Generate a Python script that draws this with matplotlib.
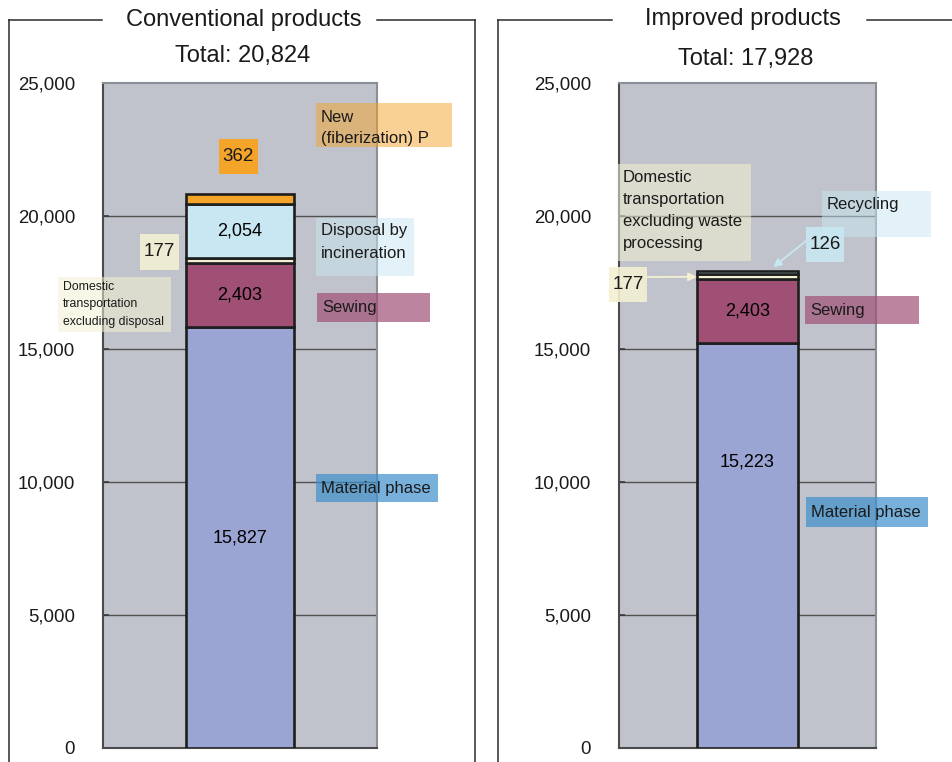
import matplotlib
matplotlib.use('Agg')

import matplotlib.pyplot as plt
from matplotlib.patches import Rectangle

plt.rcParams['font.family'] = ['Liberation Sans', 'DejaVu Sans']

# CO2 emissions per stage, stacked bottom to top
CONV_STAGES = ['Material phase', 'Sewing', 'Domestic transportation',
               'Disposal by incineration', 'New fiberization']
CONV_VALUES = [15827, 2403, 177, 2054, 362]
CONV_TOTAL = 20824

IMPR_STAGES = ['Material phase', 'Sewing', 'Domestic transportation', 'Recycling']
IMPR_VALUES = [15223, 2403, 177, 126]
IMPR_TOTAL = 17928

YTICKS = [0, 5000, 10000, 15000, 20000, 25000]

COLORS = {
    'Material phase': '#9aa5d3',
    'Sewing': '#a05075',
    'Domestic transportation': '#f3f0d2',
    'Disposal by incineration': '#c8e7f2',
    'New fiberization': '#f5a42a',
    'Recycling': '#c8e7f2',
}

W, H = 953, 762
fig = plt.figure(figsize=(W / 100, H / 100), dpi=100)


def rect(x0, y0, x1, y1):
    return [x0 / W, 1 - y1 / H, (x1 - x0) / W, (y1 - y0) / H]


def setup_axis(ax):
    ax.set_facecolor('#c0c3cb')
    ax.set_xlim(-1, 1)
    ax.set_ylim(0, 25000)
    ax.set_yticks(YTICKS)
    ax.set_yticklabels(['{:,}'.format(t) for t in YTICKS])
    ax.set_xticks([])
    ax.tick_params(axis='y', direction='in', length=4, width=1.2,
                   color='#3a3a3a', labelsize=13.4, pad=20, labelcolor='#1a1a1a')
    for t in YTICKS[1:-1]:
        ax.axhline(t, color='#505050', lw=1.0, zorder=1)
    ax.spines['left'].set_color('#4a4a4a')
    ax.spines['bottom'].set_color('#4a4a4a')
    ax.spines['right'].set_color('#8a8f96')
    ax.spines['top'].set_color('#8a8f96')
    for s in ax.spines.values():
        s.set_linewidth(1.5)


def stack(ax, stages, values):
    bottom = 0
    mids = []
    for name, v in zip(stages, values):
        ax.bar(0, v, width=0.79, bottom=bottom, color=COLORS[name],
               edgecolor='#1e1e1e', linewidth=1.9, zorder=3)
        mids.append(bottom + v / 2)
        bottom += v
    return mids


ax_l = fig.add_axes(rect(103, 83, 377, 748))
ax_r = fig.add_axes(rect(619, 83, 876, 748))
setup_axis(ax_l)
setup_axis(ax_r)

mid_l = stack(ax_l, CONV_STAGES, CONV_VALUES)
mid_r = stack(ax_r, IMPR_STAGES, IMPR_VALUES)

# values printed inside the bars
ax_l.text(0, mid_l[0], '{:,}'.format(CONV_VALUES[0]), ha='center', va='center', fontsize=13, zorder=4)
ax_l.text(0, mid_l[1], '{:,}'.format(CONV_VALUES[1]), ha='center', va='center', fontsize=13, zorder=4)
ax_l.text(0, mid_l[3], '{:,}'.format(CONV_VALUES[3]), ha='center', va='center', fontsize=13, zorder=4)
ax_r.text(0, 10750, '{:,}'.format(IMPR_VALUES[0]), ha='center', va='center', fontsize=13, zorder=4)
ax_r.text(0, mid_r[1], '{:,}'.format(IMPR_VALUES[1]), ha='center', va='center', fontsize=13, zorder=4)

# overlay in pixel units for frames, titles and callout boxes
ov = fig.add_axes([0, 0, 1, 1], zorder=5)
ov.set_xlim(0, W)
ov.set_ylim(H, 0)
ov.axis('off')
ov.patch.set_visible(False)

FRAME = dict(color='#2b2b2b', lw=1.1)
ov.plot([9, 102], [20, 20], **FRAME)
ov.plot([377, 475], [20, 20], **FRAME)
ov.plot([9, 9], [20, H + 5], **FRAME)
ov.plot([475, 475], [20, H + 5], **FRAME)
ov.plot([498, 612], [20, 20], **FRAME)
ov.plot([867, W + 5], [20, 20], **FRAME)
ov.plot([498, 498], [20, H + 5], **FRAME)

ov.text(243.5, 20, 'Conventional products', ha='center', va='center', fontsize=17, color='#1a1a1a')
ov.text(242.5, 56, 'Total: {:,}'.format(CONV_TOTAL), ha='center', va='center', fontsize=17, color='#1a1a1a')
ov.text(742.5, 19, 'Improved products', ha='center', va='center', fontsize=17, color='#1a1a1a')
ov.text(745.5, 59, 'Total: {:,}'.format(IMPR_TOTAL), ha='center', va='center', fontsize=17, color='#1a1a1a')


def tag(x0, y0, x1, y1, text, color, alpha, fs=12, center=False, ls=1.35, dy=0):
    ov.add_patch(Rectangle((x0, y0), x1 - x0, y1 - y0, facecolor=color,
                           alpha=alpha, edgecolor='none'))
    if center:
        ov.text((x0 + x1) / 2, (y0 + y1) / 2, text, ha='center', va='center',
                fontsize=fs, color='#1a1a1a')
    else:
        ov.text(x0 + 5, (y0 + y1) / 2 + dy, text, ha='left', va='center',
                fontsize=fs, color='#1a1a1a', linespacing=ls)


# conventional products callouts
tag(316, 103, 452, 147, 'New\n(fiberization) P', COLORS['New fiberization'], 0.5, ls=1.48, dy=3)
tag(219, 139, 258, 174, '{:,}'.format(CONV_VALUES[4]), COLORS['New fiberization'], 1.0, fs=13.5, center=True)
tag(316, 218, 414, 276, 'Disposal by\nincineration', COLORS['Disposal by incineration'], 0.5, ls=1.64, dy=-5)
tag(140, 234, 179, 270, '{:,}'.format(CONV_VALUES[2]), COLORS['Domestic transportation'], 0.9, fs=13.5, center=True)
tag(58, 277, 171, 332, 'Domestic\ntransportation\nexcluding disposal',
    COLORS['Domestic transportation'], 0.55, fs=8.8, ls=1.64)
tag(317, 293, 430, 322, 'Sewing', COLORS['Sewing'], 0.7)
tag(316, 474, 438, 502, 'Material phase', '#3d8fcc', 0.7)

# improved products callouts
tag(618, 164, 751, 261, 'Domestic\ntransportation\nexcluding waste\nprocessing',
    COLORS['Domestic transportation'], 0.55, ls=1.57, dy=-2)
ov.add_patch(Rectangle((822, 191), 109, 46, facecolor=COLORS['Recycling'], alpha=0.5, edgecolor='none'))
ov.text(827, 205, 'Recycling', ha='left', va='center', fontsize=12, color='#1a1a1a')
tag(806, 227, 844, 262, '{:,}'.format(IMPR_VALUES[3]), COLORS['Recycling'], 0.9, fs=13.5, center=True)
tag(609, 267, 647, 302, '{:,}'.format(IMPR_VALUES[2]), COLORS['Domestic transportation'], 0.9, fs=13.5, center=True)
tag(805, 296, 919, 324, 'Sewing', COLORS['Sewing'], 0.7)
tag(806, 497, 928, 527, 'Material phase', '#3d8fcc', 0.7)

# arrows to the thin segments on the improved bar
ax_r.annotate('', xy=(-0.395, mid_r[2]), xycoords='data',
              xytext=(647, 277), textcoords=ov.transData,
              arrowprops=dict(arrowstyle='-|>', color=COLORS['Domestic transportation'],
                              lw=1.3, mutation_scale=12, shrinkA=0, shrinkB=0),
              zorder=6)
ax_r.annotate('', xy=(0.2, sum(IMPR_VALUES) + 150), xycoords='data',
              xytext=(806, 241), textcoords=ov.transData,
              arrowprops=dict(arrowstyle='-|>', color=COLORS['Recycling'],
                              lw=1.3, mutation_scale=12, shrinkA=0, shrinkB=0),
              zorder=6)

plt.savefig('out.png', dpi=100)
